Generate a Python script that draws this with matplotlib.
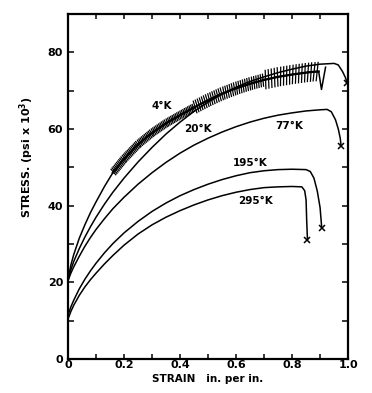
import numpy as np
import matplotlib
matplotlib.use('Agg')
import matplotlib.pyplot as plt
from matplotlib import patheffects as pe

# stress-strain curves (stress in psi x 10^3)
strain_4k = [0, 0.01, 0.02, 0.04, 0.06, 0.08, 0.1, 0.13, 0.16, 0.2, 0.25, 0.3, 0.35, 0.4,
             0.45, 0.5, 0.55, 0.6, 0.65, 0.7, 0.75, 0.8, 0.85, 0.875, 0.895, 0.905, 0.92]
stress_4k = [20.8, 24.5, 27.2, 31.5, 35.0, 38.2, 41.0, 45.0, 48.6, 52.2, 56.0, 59.0, 61.5, 63.6,
             65.6, 67.5, 69.2, 70.6, 71.8, 72.8, 73.6, 74.2, 74.7, 74.9, 75.0, 70.3, 76.3]

strain_20k = [0, 0.01, 0.02, 0.04, 0.06, 0.08, 0.1, 0.13, 0.16, 0.2, 0.25, 0.3, 0.35, 0.4,
              0.45, 0.5, 0.55, 0.6, 0.65, 0.7, 0.75, 0.8, 0.85, 0.9, 0.95, 0.965, 0.98, 0.99, 0.997]
stress_20k = [20.5, 23.3, 25.4, 28.8, 31.8, 34.5, 37.0, 40.4, 43.5, 47.2, 51.4, 55.2, 58.7, 61.8,
              64.6, 67.0, 69.1, 70.9, 72.4, 73.6, 74.7, 75.6, 76.4, 76.9, 77.1, 76.7, 75.0, 73.5, 72.0]

strain_77k = [0, 0.01, 0.02, 0.04, 0.06, 0.08, 0.1, 0.13, 0.16, 0.2, 0.25, 0.3, 0.35, 0.4,
              0.45, 0.5, 0.55, 0.6, 0.65, 0.7, 0.75, 0.8, 0.85, 0.9, 0.925, 0.94, 0.955, 0.965,
              0.972, 0.975]
stress_77k = [20.5, 22.4, 24.0, 26.8, 29.4, 31.7, 33.8, 36.6, 39.2, 42.2, 45.6, 48.6, 51.3, 53.7,
              55.8, 57.6, 59.2, 60.6, 61.8, 62.8, 63.6, 64.2, 64.7, 65.0, 65.1, 64.5, 62.4, 60.0,
              57.6, 55.6]

strain_195k = [0, 0.01, 0.02, 0.04, 0.06, 0.08, 0.1, 0.13, 0.16, 0.2, 0.25, 0.3, 0.35, 0.4,
               0.45, 0.5, 0.55, 0.6, 0.65, 0.7, 0.75, 0.8, 0.85, 0.865, 0.878, 0.89, 0.9, 0.906]
stress_195k = [11.5, 13.6, 15.3, 18.3, 20.8, 23.0, 25.0, 27.7, 30.1, 32.9, 35.9, 38.5, 40.7, 42.6,
               44.2, 45.6, 46.8, 47.8, 48.6, 49.1, 49.4, 49.5, 49.4, 48.9, 47.2, 43.8, 39.5, 34.1]

strain_295k = [0, 0.01, 0.02, 0.04, 0.06, 0.08, 0.1, 0.13, 0.16, 0.2, 0.25, 0.3, 0.35, 0.4,
               0.45, 0.5, 0.55, 0.6, 0.65, 0.7, 0.75, 0.8, 0.835, 0.845, 0.85, 0.852, 0.855]
stress_295k = [10.5, 12.4, 14.0, 16.6, 18.8, 20.7, 22.4, 24.8, 27.0, 29.7, 32.6, 35.0, 37.0, 38.7,
               40.2, 41.5, 42.6, 43.5, 44.2, 44.7, 44.9, 45.0, 44.9, 43.9, 41.5, 36.5, 31.0]

curves = [(strain_4k, stress_4k), (strain_20k, stress_20k), (strain_77k, stress_77k),
          (strain_195k, stress_195k), (strain_295k, stress_295k)]
temp_labels = ['4°K', '20°K', '77°K', '195°K', '295°K']

plt.rcParams['font.family'] = 'DejaVu Sans'
plt.rcParams['font.weight'] = 'bold'

fig = plt.figure(figsize=(3.72, 3.93), dpi=100)
ax = fig.add_axes([0.183, 0.0865, 0.7527, 0.878])

for s, t in curves:
    ax.plot(s, t, color='k', lw=1.1, solid_capstyle='butt')

# serrated (jerky flow) part of the 4 K curve, drawn as ticks on both sides
s4 = np.array(strain_4k)
t4 = np.array(stress_4k)
for lo, hi, sp, ln in [(0.16, 0.45, 1.25, 2.1), (0.45, 0.7, 1.6, 2.7), (0.7, 0.895, 2.2, 3.0)]:
    m = (s4 >= lo) & (s4 <= hi)
    ax.plot(s4[m], t4[m], color='k', lw=1.6,
            path_effects=[pe.TickedStroke(angle=80, spacing=sp, length=ln, linewidth=0.9),
                          pe.TickedStroke(angle=-100, spacing=sp, length=ln, linewidth=0.9),
                          pe.Normal()])

# fracture marks
for s, t in curves[1:]:
    ax.plot(s[-1], t[-1], marker='x', ms=4, mew=1.1, color='k')

# temperature labels
label_pos = [(0.335, 66.0), (0.465, 59.9), (0.79, 60.7), (0.65, 51.0), (0.67, 41.1)]
for txt, (x, y) in zip(temp_labels, label_pos):
    ax.text(x, y, txt, ha='center', va='center', fontsize=7.5, fontweight='bold')

ax.set_xlim(0, 1.0)
ax.set_ylim(0, 90)
ax.set_xticks([0, 0.2, 0.4, 0.6, 0.8, 1.0])
ax.set_xticklabels(['0', '0.2', '0.4', '0.6', '0.8', '1.0'])
ax.set_xticks(np.arange(0.1, 1.0, 0.2), minor=True)
ax.set_yticks([0, 20, 40, 60, 80])
ax.set_yticks([10, 30, 50, 70], minor=True)

ax.tick_params(which='both', direction='in', top=True, right=True, width=1.1,
               labelsize=8)
ax.tick_params(axis='x', which='both', length=3.5, pad=1.0)
ax.tick_params(axis='y', which='both', length=4, pad=3.5)
for sp_ in ax.spines.values():
    sp_.set_linewidth(1.6)

ax.set_xlabel('STRAIN   in. per in.', fontsize=7.5, fontweight='bold', va='center')
ax.xaxis.set_label_coords(0.5, -0.058)
ax.set_ylabel(r'STRESS. (psi x 10$^3$)', fontsize=8, fontweight='bold', va='center')
ax.yaxis.set_label_coords(-0.146, 0.585)

fig.savefig('out.png', dpi=100)
